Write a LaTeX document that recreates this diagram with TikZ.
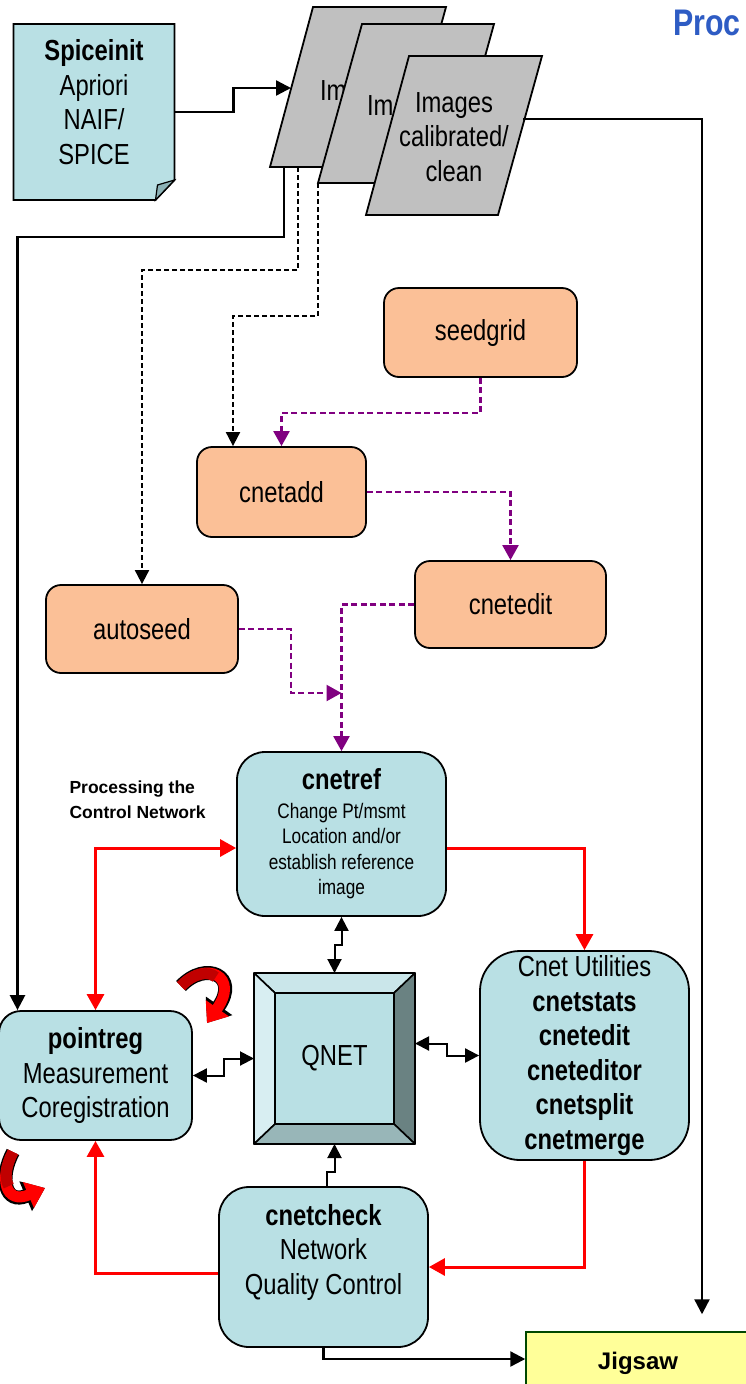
\documentclass[tikz,border=0pt]{standalone}
\usepackage{fontspec}
\setmainfont{Liberation Sans}
\newfontfamily\narrowsans{Liberation Sans}[FakeStretch=0.82]
\usetikzlibrary{arrows.meta}

\definecolor{peach}{RGB}{251,192,151}
\definecolor{tealfill}{RGB}{185,224,228}
\definecolor{paper}{RGB}{192,192,192}
\definecolor{plum}{RGB}{128,0,128}
\definecolor{alert}{RGB}{255,0,0}
\definecolor{alertdark}{RGB}{192,0,0}
\definecolor{lemon}{RGB}{255,255,153}
\definecolor{forest}{RGB}{0,72,0}
\definecolor{titleblue}{RGB}{46,92,196}
\definecolor{bevtop}{RGB}{202,230,234}
\definecolor{bevleft}{RGB}{216,238,242}
\definecolor{bevright}{RGB}{106,130,130}
\definecolor{bevbot}{RGB}{152,182,184}
\definecolor{fold}{RGB}{140,178,182}

\newcommand\bigtext{\narrowsans\fontsize{29pt}{34.5pt}\selectfont}
\newcommand\smalltext{\narrowsans\fontsize{21pt}{25.5pt}\selectfont}

\begin{document}
\begin{tikzpicture}[x=1pt,y=-1pt,
  box/.style={draw=black, line width=1.8pt, align=center, font=\bigtext, inner sep=0pt},
  seedbox/.style={box, fill=peach, rounded corners=15pt},
  tealbox/.style={box, fill=tealfill},
  parastyle/.style={draw=black, line width=1.8pt, fill=paper},
  plain/.style={inner sep=0pt, outer sep=0pt},
  conn/.style={line width=2.4pt, -{Triangle[length=15pt,width=15pt]}},
  thinconn/.style={line width=2pt, -{Triangle[length=14pt,width=14pt]}},
  biconn/.style={line width=2pt, {Triangle[length=14pt,width=14pt]}-{Triangle[length=14pt,width=14pt]}},
  dashline/.style={line width=1.9pt, dash pattern=on 5pt off 3pt, -{Triangle[length=14pt,width=14pt]}},
  plumline/.style={plum, line width=2.3pt, dash pattern=on 6pt off 3.5pt, -{Triangle[length=15pt,width=16pt]}},
  redline/.style={alert, line width=3pt, -{Triangle[length=16pt,width=17pt]}},
  redbi/.style={alert, line width=3pt, {Triangle[length=16pt,width=17pt]}-{Triangle[length=16pt,width=17pt]}},
]
\useasboundingbox (0,0) rectangle (746,1384);
\fill[white] (0,0) rectangle (746,1384);

% title
\node[plain, anchor=base west, font=\narrowsans\bfseries\fontsize{37pt}{40pt}\selectfont, text=titleblue] (title) at (673,35) {Proc};

% Spiceinit document
\node[plain, minimum width=161pt, minimum height=176pt] (spice) at (94,112) {};
\draw[line width=1.8pt, fill=tealfill] (spice.north west) -- (spice.north east)
  -- ([yshift=20pt]spice.south east) -- ([xshift=-19pt]spice.south east)
  -- (spice.south west) -- cycle;
\draw[line width=1.2pt, fill=fold] ([yshift=20pt]spice.south east) -- ([xshift=-19pt]spice.south east)
  -- ([xshift=-17pt,yshift=15pt]spice.south east) -- cycle;
\node[font=\bigtext, align=center] (spicetxt) at (94,102) {\textbf{Spiceinit}\\Apriori\\NAIF/\\SPICE};

% stacked image sheets
\draw[parastyle] (313,7) -- (446,7) -- (402,167) -- (270,167) -- cycle;
\node[plain, anchor=base west, font=\bigtext] (imgA) at (320,100) {Im};
\draw[parastyle] (362,24) -- (494,24) -- (450,183) -- (318,183) -- cycle;
\node[plain, anchor=base west, font=\bigtext] (imgB) at (367,115) {Im};
\draw[parastyle] (409,56) -- (542,56) -- (498,215) -- (366,215) -- cycle;
\node[font=\bigtext, align=center] (imgC) at (454,137) {Images\\calibrated/\\clean};
\coordinate (img1in) at (291,88);
\coordinate (img1out) at (284,167);
\coordinate (img1dash) at (298,167);
\coordinate (img2dash) at (318,183);
\coordinate (img3out) at (523,119);

% tie-point tools
\node[seedbox, minimum width=193pt, minimum height=89pt] (seedgrid) at (480.5,332.5) {seedgrid};
\node[seedbox, minimum width=169pt, minimum height=90pt] (cnetadd) at (281.5,492) {cnetadd};
\node[seedbox, minimum width=191pt, minimum height=87pt] (cnetedit) at (510.5,604.5) {cnetedit};
\node[seedbox, minimum width=192pt, minimum height=88pt] (autoseed) at (142,629) {autoseed};
\coordinate (junction) at (341.5,693);

% control network processing
\node[tealbox, rounded corners=28pt, minimum width=209pt, minimum height=164pt, font=\smalltext] (cnetref) at (341.5,834)
  {{\fontsize{29pt}{29pt}\selectfont\bfseries cnetref}\\[3pt]Change Pt/msmt\\Location and/or\\establish reference\\image};
\node[tealbox, rounded corners=40pt, minimum width=209pt, minimum height=209pt] (cnetutil) at (584.5,1055.5)
  {Cnet Utilities\\\textbf{cnetstats}\\\textbf{cnetedit}\\\textbf{cneteditor}\\\textbf{cnetsplit}\\\textbf{cnetmerge}};
\node[tealbox, rounded corners=22pt, minimum width=193pt, minimum height=129pt] (pointreg) at (95.5,1075.5)
  {\textbf{pointreg}\\Measurement\\Coregistration};
\node[tealbox, rounded corners=30pt, minimum width=209pt, minimum height=160pt] (cnetcheck) at (323.5,1267) {};
\node[font=\bigtext, align=center] (cnetchecktxt) at (323.5,1252) {\textbf{cnetcheck}\\Network\\Quality Control};

\node[anchor=west, align=left, font=\bfseries\fontsize{17.5pt}{25pt}\selectfont] (proclabel) at (66,799.5)
  {Processing the\\Control Network};

% QNET bevelled block
\node[plain, minimum width=161pt, minimum height=171pt] (qnet) at (334.5,1058.5) {};
\coordinate (inw) at ([xshift=21pt,yshift=-20pt]qnet.north west);
\coordinate (ine) at ([xshift=-21pt,yshift=-20pt]qnet.north east);
\coordinate (isw) at ([xshift=21pt,yshift=20pt]qnet.south west);
\coordinate (ise) at ([xshift=-21pt,yshift=20pt]qnet.south east);
\begin{scope}[line width=1.6pt, line join=round]
  \draw[fill=bevtop] (qnet.north west) -- (qnet.north east) -- (ine) -- (inw) -- cycle;
  \draw[fill=bevleft] (qnet.north west) -- (inw) -- (isw) -- (qnet.south west) -- cycle;
  \draw[fill=bevright] (qnet.north east) -- (qnet.south east) -- (ise) -- (ine) -- cycle;
  \draw[fill=bevbot] (qnet.south west) -- (isw) -- (ise) -- (qnet.south east) -- cycle;
\end{scope}
\node[box, fill=tealfill, line width=1.6pt, minimum width=119pt, minimum height=131pt] (qin) at (334.5,1058.5) {QNET};

% bundle adjustment
\node[draw=forest, line width=1.5pt, fill=lemon, minimum width=224pt, minimum height=62pt,
  font=\bfseries\fontsize{24pt}{28pt}\selectfont] (jigsaw) at (638,1363) {Jigsaw};

% solid black flow
\draw[conn] (spice.east) -- ++(59,0) |- (img1in);
\draw[conn] (img3out) -| ([xshift=64pt,yshift=17pt]jigsaw.north);
\draw[conn] (img1out) -- ++(0,70) -| ([xshift=-78pt]pointreg.north);
\draw[conn] (cnetcheck.south) |- ([yshift=4pt]jigsaw.west);

% dashed image feeds
\draw[dashline] (img1dash) -- ++(0,103) -| (autoseed.north);
\draw[dashline] (img2dash) -- ++(0,133) -| ([xshift=-48.5pt]cnetadd.north);

% network building
\draw[plumline] (seedgrid.south) -- ++(0,35) -| (cnetadd.north);
\draw[plumline] (cnetadd.east) -| (cnetedit.north);
\draw[plumline] (cnetedit.west) -| (cnetref.north);
\draw[plumline] (autoseed.east) -- ++(52,0) |- (junction);

% review loop
\draw[redbi] ([yshift=-14pt]cnetref.west) -| (pointreg.north);
\draw[redline] ([yshift=-14pt]cnetref.east) -| (cnetutil.north);
\draw[redline] (cnetutil.south) |- (cnetcheck.east);
\draw[redline] ([yshift=-6pt]cnetcheck.west) -| (pointreg.south);

% QNET links
\draw[biconn] (cnetref.south) -- ++(0,28) -| (qnet.north);
\draw[thinconn] ([xshift=3pt]cnetcheck.north) -- ++(0,-14) -| (qnet.south);
\draw[biconn] (pointreg.east) -- ++(31,0) |- (qnet.west);
\draw[biconn] ([yshift=15pt]qnet.east) -- ++(32,0) |- (cnetutil.west);

% iteration arrows
\draw[line width=14pt, -{Triangle[length=21pt,width=31pt]}] (181,986) .. controls (206,960) and (240,976) .. (207,1023);
\draw[alert, line width=11pt, -{Triangle[length=18pt,width=27pt]}] (181,986) .. controls (206,960) and (240,976) .. (207,1023);
\draw[alertdark, line width=11pt] (181,986) .. controls (193.5,973) and (208.25,970.5) .. (215.75,977.1);

\draw[line width=14pt, -{Triangle[length=21pt,width=31pt]}] (13,1152) .. controls (-1,1178) and (5,1205) .. (45,1188);
\draw[alert, line width=11pt, -{Triangle[length=18pt,width=27pt]}] (13,1152) .. controls (-1,1178) and (5,1205) .. (45,1188);
\draw[alertdark, line width=11pt] (13,1152) .. controls (6,1165) and (4,1178.25) .. (8.75,1186.1);
\end{tikzpicture}
\end{document}
